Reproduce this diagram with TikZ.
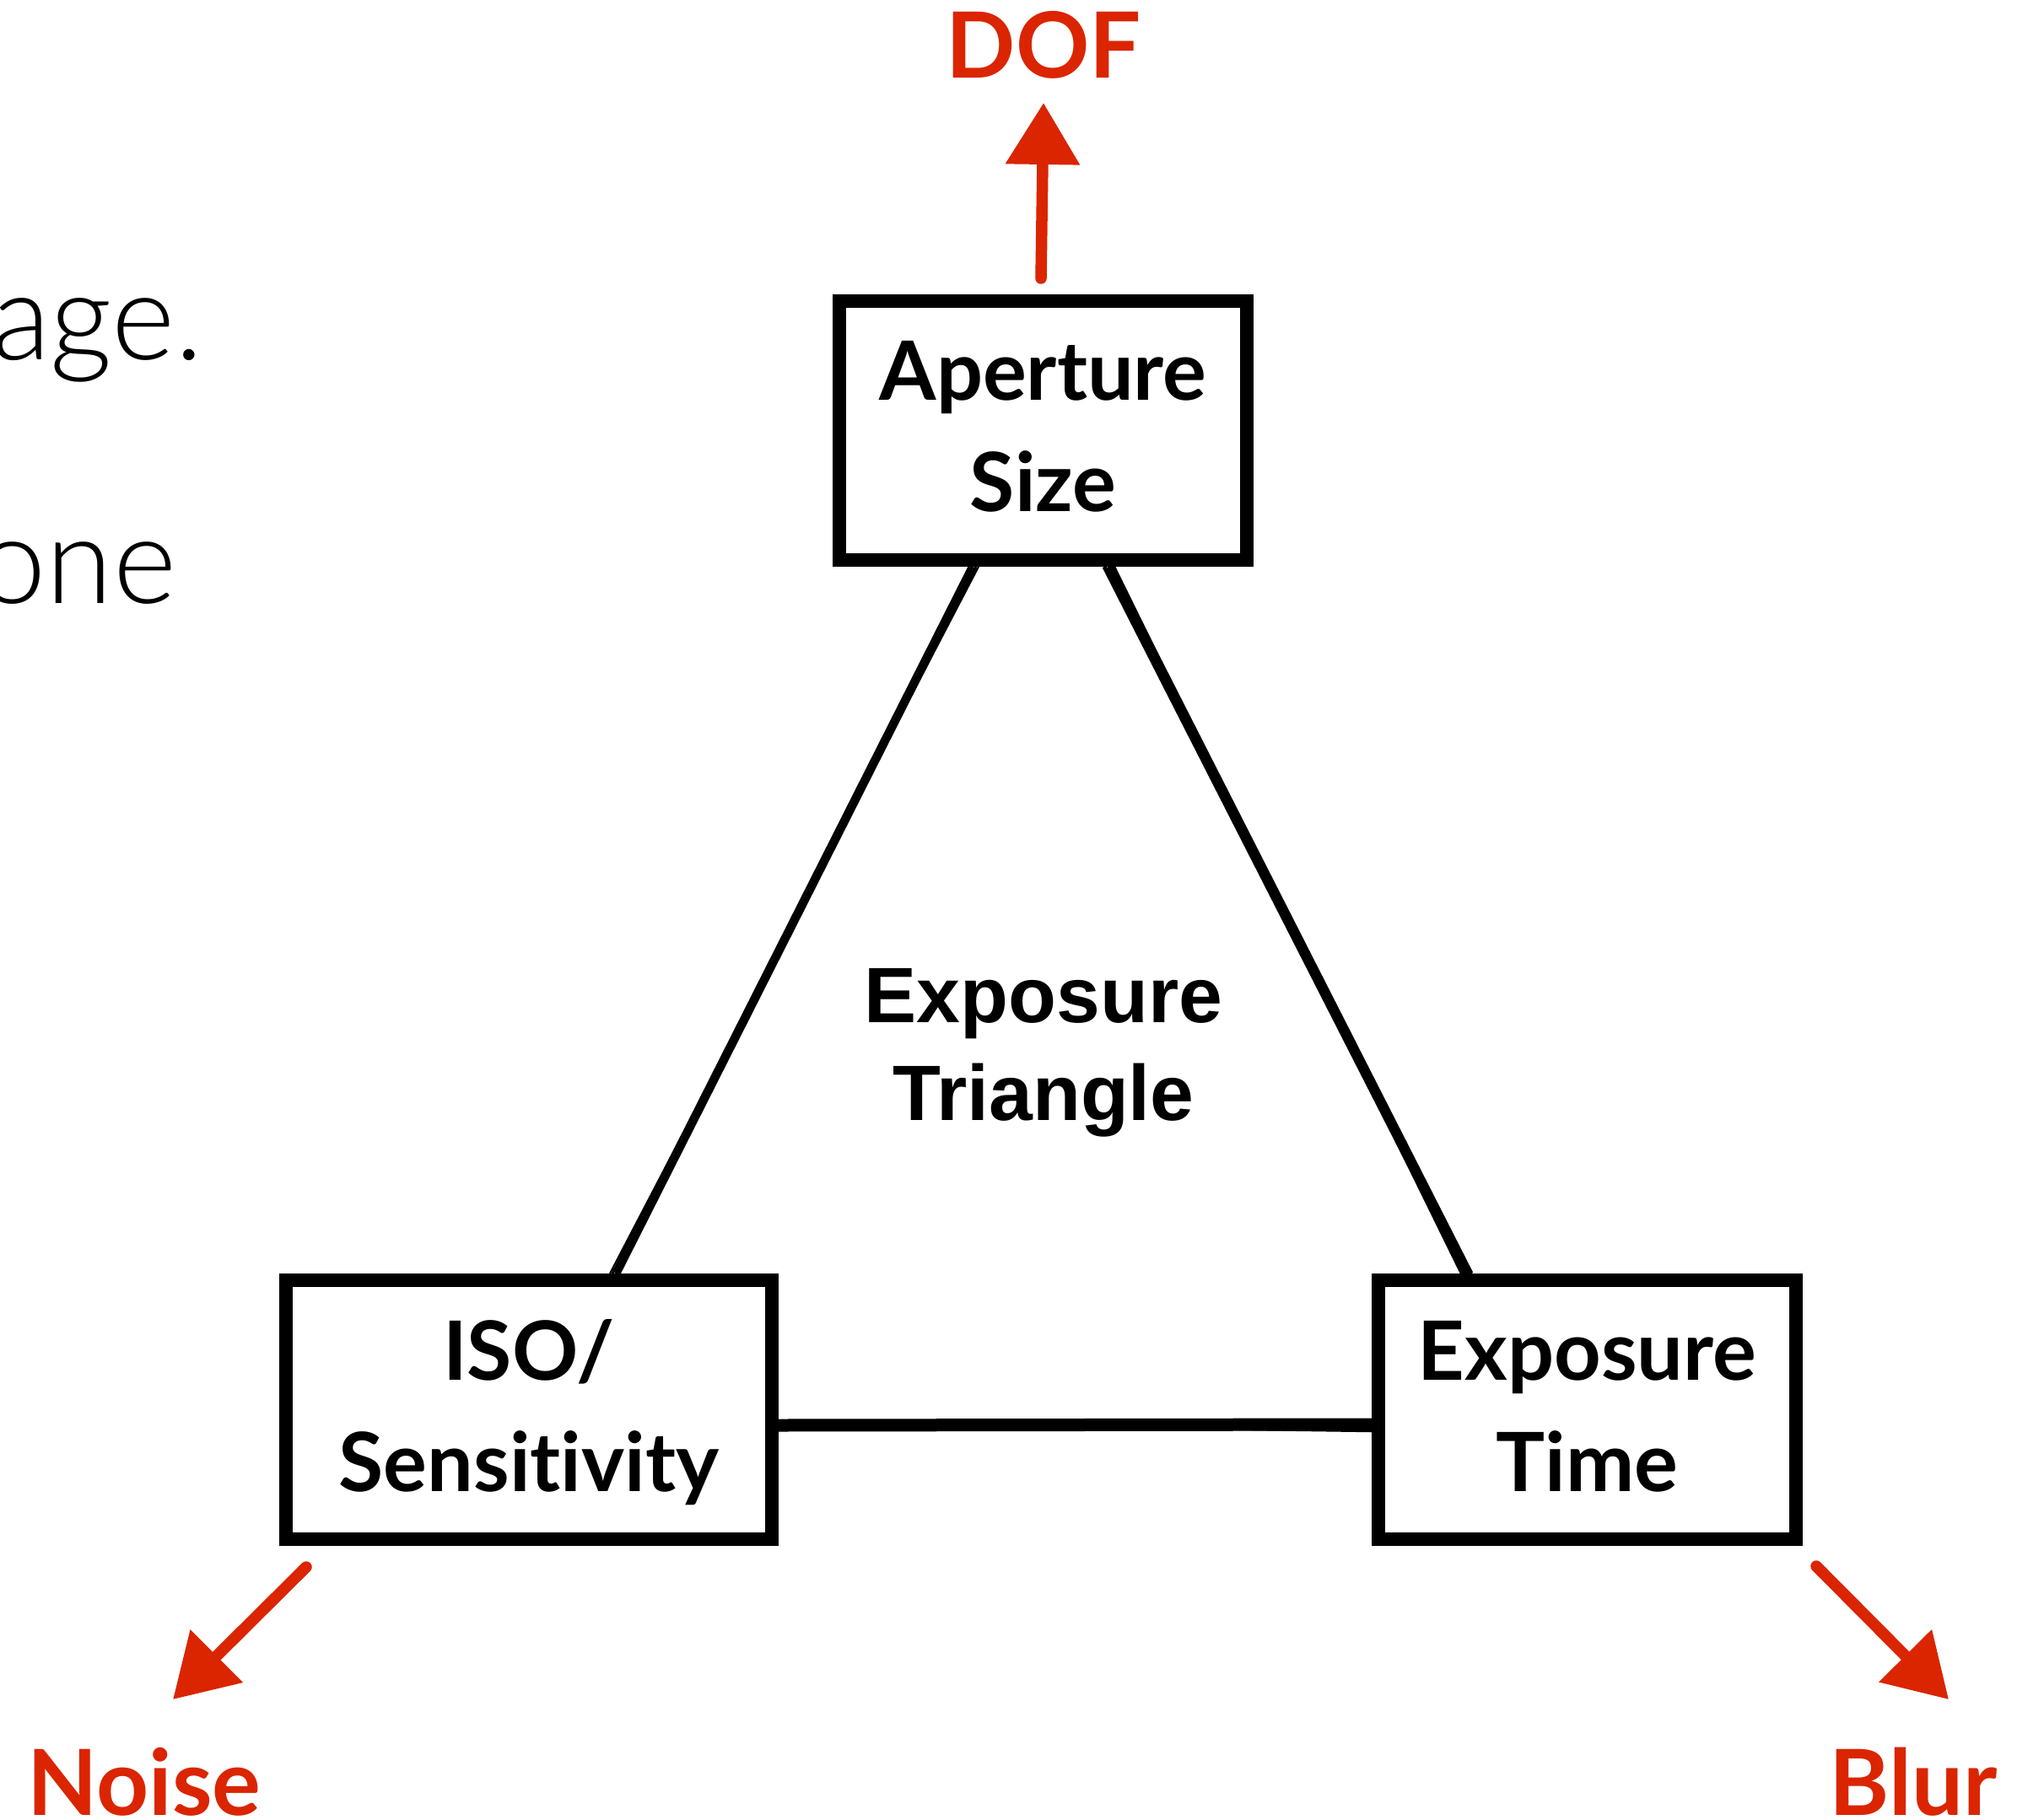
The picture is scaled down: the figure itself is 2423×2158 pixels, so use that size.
\documentclass[tikz,border=0pt]{standalone}
\usepackage{fontspec}
\setmainfont{Lato}[Ligatures=NoCommon]
\newfontfamily\boxfont{Lato}[Ligatures=NoCommon]
\newfontfamily\helv{Liberation Sans}
\newfontfamily\lightfont{Lato Light}
\usetikzlibrary{arrows.meta,calc,backgrounds}
\definecolor{sketchred}{RGB}{218,37,0}
\begin{document}
\begin{tikzpicture}[x=0.1mm,y=-0.1mm,
  box/.style={draw=black,line width=1.6mm,inner sep=0pt,minimum height=30.7mm},
  boxlabel/.style={font=\boxfont\bfseries\fontsize{27.6}{32}\selectfont,inner sep=0pt,anchor=base},
  centerlabel/.style={font=\helv\bfseries\fontsize{26.5}{32}\selectfont,inner sep=0pt,anchor=base},
  redlabel/.style={font=\bfseries\fontsize{30.8}{36}\selectfont,text=sketchred,inner sep=0pt},
  lighttext/.style={font=\lightfont\fontsize{41}{48}\selectfont,inner sep=0pt,anchor=base east},
  redarrow/.style={draw=sketchred,line width=1.35mm,line cap=round,-{Triangle[length=7.3mm,width=8.5mm]}}
]
\useasboundingbox (0,0) rectangle (2423,2158);

% boxes
\node[box,minimum width=48.3mm] (ap) at (1236.5,510.5) {};
\node[box,minimum width=57.6mm] (iso) at (627,1671.5) {};
\node[box,minimum width=49.5mm] (exp) at (1881.5,1671.5) {};

% box texts
\node[boxlabel] (apt1) at ($(ap.center)+(0,-35.5)$) {Aperture};
\node[boxlabel] (apt2) at ($(ap.center)+(0,96.5)$) {Size};
\node[boxlabel] (isot1) at ($(iso.center)+(0,-35.5)$) {ISO/};
\node[boxlabel] (isot2) at ($(iso.center)+(0,96.5)$) {Sensitivity};
\node[boxlabel] (expt1) at ($(exp.center)+(0,-35.5)$) {Exposure};
\node[boxlabel] (expt2) at ($(exp.center)+(0,96.5)$) {Time};

% centre
\node[centerlabel] (tri1) at (1237,1212) {Exposure};
\node[centerlabel] (tri2) at (1237,1328) {Triangle};

% left partial text
\node[lighttext] (lt1) at (242,427) {age.};
\node[lighttext] (lt2) at (210,715) {one};

% connection points
\coordinate (a1) at ($(ap.south)+(-82.5,0)$);
\coordinate (a2) at ($(ap.south)+(77.5,0)$);
\coordinate (i1) at ($(iso.north)+(102,0)$);
\coordinate (e1) at ($(exp.north)+(-142.5,0)$);
\coordinate (i2) at ($(iso.east)+(0,18.5)$);
\coordinate (e2) at ($(exp.west)+(0,18.5)$);

\begin{scope}[on background layer]
  % left edge (lighter, double stroke)
  \draw[line width=0.3mm] ($(a1)+(-5,0)$) -- ($(i1)+(-3,0)$);
  \draw[line width=0.45mm] ($(a1)+(-1,0)$) -- ($(i1)+(1,0)$);
  \draw[line width=0.35mm] ($(a1)+(3,0)$) -- ($(i1)+(5,0)$);
  \draw[line width=0.2mm] ($(a1)+(6,0)$) -- ($(i1)+(-6,0)$);
  % right edge (heavier)
  \draw[line width=0.5mm] ($(a2)+(-5,0)$) -- ($(e1)+(-3,0)$);
  \draw[line width=0.75mm] ($(a2)+(0,0)$) -- ($(e1)+(1,0)$);
  \draw[line width=0.5mm] ($(a2)+(4,0)$) -- ($(e1)+(5,0)$);
  \draw[line width=0.25mm] ($(a2)+(7,0)$) -- ($(e1)+(-7,0)$);
  % bottom edge
  \draw[line width=0.5mm] ($(i2)+(0,-5)$) -- ($(e2)+(0,-6)$);
  \draw[line width=0.75mm] ($(i2)+(0,0)$) -- ($(e2)+(0,-1)$);
  \draw[line width=0.5mm] ($(i2)+(0,5)$) -- ($(e2)+(0,4)$);
  \draw[line width=0.25mm] ($(i2)+(0,-3)$) -- ($(e2)+(0,7)$);
\end{scope}

% red labels
\node[redlabel,anchor=base] (dof) at (1237.5,93) {DOF};
\node[redlabel,anchor=base west] (noise) at (32,2152) {Noise};
\node[redlabel,anchor=base west] (blur) at (2168,2152) {Blur};

% red arrows
\coordinate (dofs) at (1234,330);
\coordinate (doft) at (1237,122);
\coordinate (noises) at (363,1858);
\coordinate (noiset) at (205,2015);
\coordinate (blurs) at (2153,1857);
\coordinate (blurt) at (2310,2015);
\draw[redarrow] (dofs) -- (doft);
\draw[redarrow] (noises) -- (noiset);
\draw[redarrow] (blurs) -- (blurt);
\end{tikzpicture}
\end{document}
